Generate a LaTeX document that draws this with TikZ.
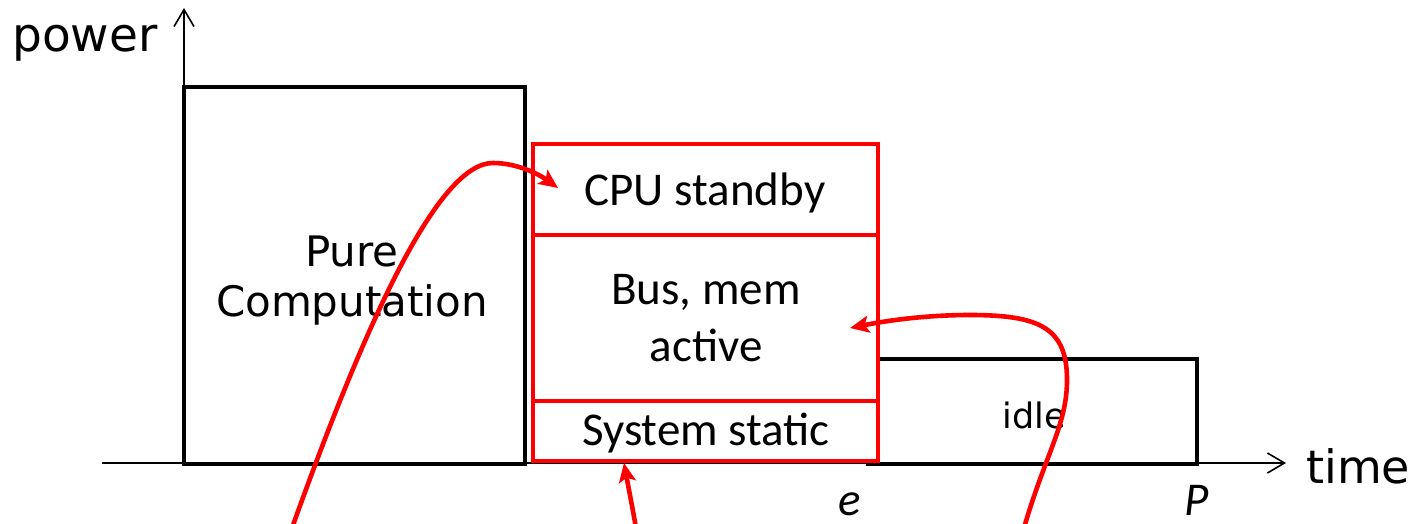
\documentclass[tikz,border=0pt]{standalone}
\usepackage{fontspec}
\setmainfont{Carlito}
\newfontfamily\axisfont{DejaVu Sans}
\usetikzlibrary{arrows.meta}

\definecolor{hotred}{RGB}{255,0,0}

\tikzset{
  axisline/.style={line width=1.6pt, -{Straight Barb[length=17pt,width=20pt]}},
  blackbox/.style={draw=black, line width=4.6pt},
  stackbox/.style={draw=hotred, line width=4.6pt, fill=white},
  pointer/.style={draw=hotred, line width=4.6pt, line cap=round,
    -{Stealth[length=19pt,width=17pt,inset=4pt]}},
  boxtext/.style={font=\fontsize{47}{57}\selectfont, inner sep=0pt, align=center},
  dvtext/.style={inner sep=0pt, align=center},
  ticktext/.style={font=\fontsize{47}{57}\selectfont\itshape, inner sep=0pt, anchor=base}
}

\begin{document}
\begin{tikzpicture}[x=1pt,y=-1pt]
  \useasboundingbox (0,0) rectangle (1420,524);

  % axes
  \coordinate (origin) at (184,463);
  \coordinate (ytop) at (184,8);
  \coordinate (xleft) at (102,463);
  \coordinate (xright) at (1286,463);
  \draw[axisline] (origin) -- (ytop);
  \draw[axisline] (xleft) -- (xright);
  \node[dvtext, anchor=base west, font=\axisfont\fontsize{47}{56}\selectfont] (ylabel) at (12,52) {power};
  \node[dvtext, anchor=base west, font=\axisfont\fontsize{46}{55}\selectfont] (xlabel) at (1306,483) {time};

  % computation phase
  \draw[blackbox] (184,87) rectangle (525,464);
  \node[dvtext, font=\axisfont\fontsize{42}{50}\selectfont] (pure) at (352,281) {Pure\\Computation};

  % idle phase (left side hidden under the stacked box)
  \draw[blackbox] (868,359) rectangle (1197,464);
  \node[dvtext, anchor=base, font=\axisfont\fontsize{35}{42}\selectfont] (idle) at (1034,428) {idle};

  % stacked power components
  \draw[stackbox] (533,144) rectangle (878,461);
  \draw[draw=hotred, line width=4.6pt] (533,235) -- (878,235);
  \draw[draw=hotred, line width=4.6pt] (533,401) -- (878,401);
  \node[boxtext, anchor=base] (cpu) at (705,205) {CPU standby};
  \node[boxtext] (bus) at (706,318) {Bus, mem\\active};
  \node[boxtext, anchor=base] (sys) at (706,445) {System static};

  % time marks
  \node[ticktext] (emark) at (850,515) {e};
  \node[ticktext] (pmark) at (1197,515) {P};

  % pointers into the stack
  \coordinate (p1s) at (292,528);
  \coordinate (p1e) at (558,188);
  \coordinate (p2s) at (636,528);
  \coordinate (p2e) at (624,463);
  \coordinate (p3s) at (1024,528);
  \coordinate (p3e) at (850,328);
  \draw[pointer] (p1s) .. controls (370,310) and (440,163) .. (493,163)
                     .. controls (518,163) and (540,175) .. (p1e);
  \draw[pointer] (p2s) .. controls (632,505) and (628,485) .. (p2e);
  \draw[pointer] (p3s) .. controls (1045,455) and (1067,425) .. (1067,380)
                     .. controls (1067,328) and (1040,315) .. (970,315)
                     .. controls (920,315) and (880,322) .. (p3e);
\end{tikzpicture}
\end{document}
